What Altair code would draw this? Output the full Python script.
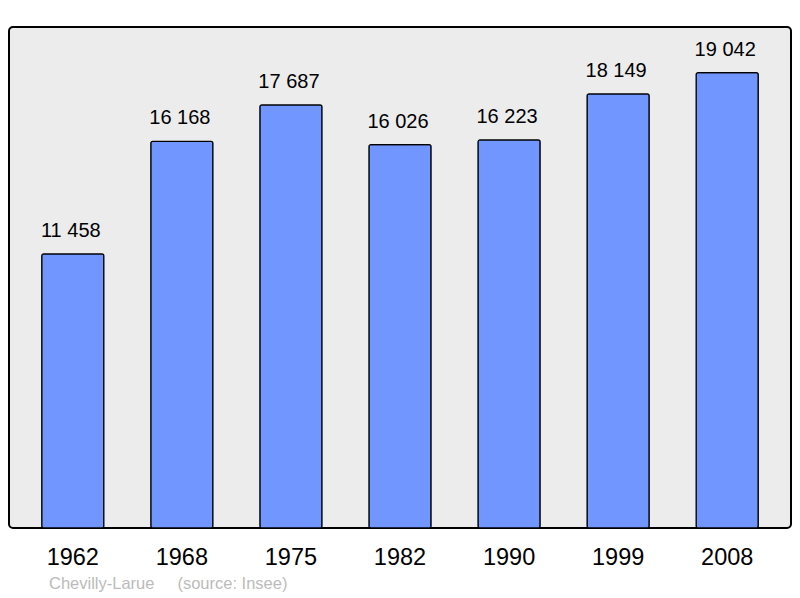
import altair as alt
import pandas as pd

years = ["1962", "1968", "1975", "1982", "1990", "1999", "2008"]
population = [11458, 16168, 17687, 16026, 16223, 18149, 19042]

df = pd.DataFrame({"year": years, "pop": population})
df["label"] = [f"{v:,}".replace(",", " ") for v in population]

ymax = max(population) * 1.1

x = alt.X(
    "year:N",
    sort=None,
    scale=alt.Scale(paddingInner=0.43, paddingOuter=0.3),
    axis=alt.Axis(
        title=None, labelAngle=0, ticks=False, domain=False,
        labelFontSize=23.5, labelColor="#000000", labelFont="Liberation Sans",
        labelPadding=17,
    ),
)
y = alt.Y("pop:Q", scale=alt.Scale(domain=[0, ymax], nice=False), axis=None)

bars = alt.Chart(df).mark_bar(
    color="#7196ff", stroke="#000000", strokeWidth=1.2, cornerRadius=2
).encode(x=x, y=y)

labels = alt.Chart(df).mark_text(
    baseline="bottom", dy=-13, dx=-2, fontSize=20, font="Liberation Sans", color="#000000"
).encode(x=x, y=y, text="label:N")

chart = alt.layer(bars, labels).properties(
    width=782,
    height=501,
    background="#ffffff",
    padding={"left": 1, "top": 19, "right": 1, "bottom": 69},
    autosize=alt.AutoSizeParams(type="none"),
    title=alt.TitleParams(
        text="Chevilly-Larue\u00a0\u00a0\u00a0\u00a0\u00a0(source: Insee)",
        orient="bottom", anchor="start", dx=40, offset=7,
        fontSize=16.5, font="Liberation Sans", fontWeight="normal", color="#bbbbbb",
    ),
).configure_view(
    fill="#ececec", stroke="#000000", strokeWidth=2, cornerRadius=4
)

chart.save("out.html", embed_options={"renderer": "svg", "actions": False})
